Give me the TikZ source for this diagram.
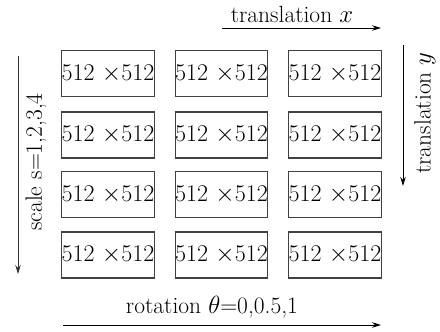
\documentclass[tikz,border=0pt]{standalone}
\usetikzlibrary{arrows.meta}
\begin{document}
\begin{tikzpicture}[x=1pt,y=-1pt,
  tile/.style={draw=black!75,line width=1.3pt,minimum width=92pt,minimum height=46pt,
    inner sep=0pt,anchor=center,font=\fontsize{24}{28}\selectfont},
  axis/.style={line width=1pt,-{Stealth[length=9pt,width=5.5pt]}},
  lab/.style={font=\fontsize{23.5}{28}\selectfont,inner sep=0pt}]
\useasboundingbox (0,0) rectangle (440,332);
% grid of image tiles
\foreach \r/\y in {1/73.5,2/135,3/194.5,4/255}{
  \foreach \c/\x in {1/108,2/221.5,3/335}{
    \node[tile] (t\r\c) at (\x,\y) {512 $\times$512};
  }
}
% axis arrows
\coordinate (xa) at (222,28);  \coordinate (xb) at (381,28);
\coordinate (ya) at (403,45);  \coordinate (yb) at (403,186);
\coordinate (sa) at (18,56);   \coordinate (sb) at (18,274);
\coordinate (ra) at (63,325);  \coordinate (rb) at (381,325);
\draw[axis] (xa) -- (xb);
\draw[axis] (ya) -- (yb);
\draw[axis,draw=black!80] (sa) -- (sb);
\draw[axis] (ra) -- (rb);
% axis labels
\node[lab] (lx) at (292,14) {translation $x$};
\node[lab,rotate=90] (ly) at (425,113) {translation $y$};
\node[lab,rotate=90] (ls) at (36,162) {scale s=1,2,3,4};
\node[lab] (lr) at (212,307) {rotation $\theta$=0,0.5,1};
\end{tikzpicture}
\end{document}
